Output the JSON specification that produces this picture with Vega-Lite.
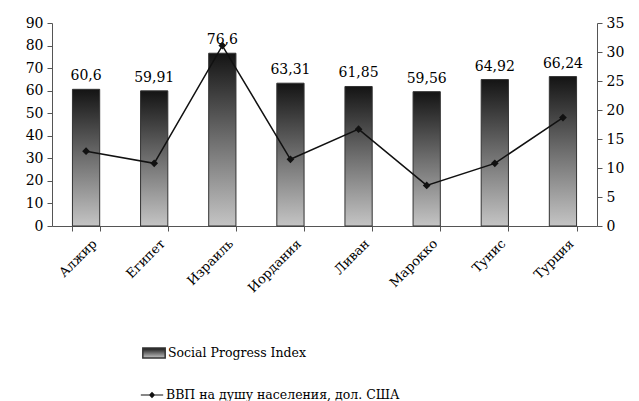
{
  "$schema": "https://vega.github.io/schema/vega-lite/v6.json",
  "autosize": {"type": "none"},
  "width": 545,
  "height": 203,
  "padding": {"left": 52, "top": 23, "right": 42, "bottom": 175},
  "background": "white",
  "config": {
    "view": {"stroke": null},
    "font": "DejaVu Serif",
    "text": {"font": "DejaVu Serif"},
    "axis": {"labelFont": "DejaVu Serif", "labelColor": "#000", "domainColor": "#555", "tickColor": "#555", "grid": false, "title": null},
    "legend": {"labelFont": "DejaVu Serif", "labelColor": "#000", "labelFontSize": 12.5, "labelLimit": 500}
  },
  "data": {
    "values": [
      {"country": "Алжир", "spi": 60.6, "label": "60,6", "gdp": 12.9},
      {"country": "Египет", "spi": 59.91, "label": "59,91", "gdp": 10.8},
      {"country": "Израиль", "spi": 76.6, "label": "76,6", "gdp": 31.1},
      {"country": "Иордания", "spi": 63.31, "label": "63,31", "gdp": 11.5},
      {"country": "Ливан", "spi": 61.85, "label": "61,85", "gdp": 16.7},
      {"country": "Марокко", "spi": 59.56, "label": "59,56", "gdp": 7.0},
      {"country": "Тунис", "spi": 64.92, "label": "64,92", "gdp": 10.8},
      {"country": "Турция", "spi": 66.24, "label": "66,24", "gdp": 18.7}
    ]
  },
  "encoding": {
    "x": {
      "field": "country", "type": "nominal", "sort": null,
      "scale": {"paddingInner": 0.6, "paddingOuter": 0.3},
      "axis": {"labelAngle": -45, "labelAlign": "right", "labelBaseline": "top", "labelFontSize": 13, "labelPadding": 6, "tickBand": "extent", "tickSize": 5, "labelOffset": 4}
    }
  },
  "layer": [
    {
      "encoding": {
        "y": {"field": "spi", "type": "quantitative", "scale": {"domain": [0, 90], "nice": false},
          "axis": {"values": [0, 10, 20, 30, 40, 50, 60, 70, 80, 90], "labelFontSize": 14, "tickSize": 5, "labelPadding": 4}}
      },
      "layer": [
        {
          "mark": {"type": "bar", "stroke": "#333", "strokeWidth": 1,
            "fill": {"gradient": "linear", "x1": 0, "y1": 0, "x2": 0, "y2": 1,
              "stops": [{"offset": 0, "color": "#141414"}, {"offset": 0.5, "color": "#6e6e6e"}, {"offset": 1, "color": "#c4c4c4"}]}},
          "encoding": {
            "opacity": {"datum": "Social Progress Index", "type": "nominal", "scale": {"range": [1]},
              "legend": {"orient": "none", "legendX": 90, "legendY": 318, "title": null, "symbolSize": 500,
                "symbolType": "M-1,-0.45H1V0.45H-1Z", "labelOffset": 2,
                "symbolFillColor": "#555", "symbolOpacity": 1}}
          }
        },
        {
          "mark": {"type": "text", "baseline": "bottom", "dy": -6, "fontSize": 14, "color": "#000"},
          "encoding": {"text": {"field": "label"}}
        }
      ]
    },
    {
      "encoding": {
        "y": {"field": "gdp", "type": "quantitative", "scale": {"domain": [0, 35], "nice": false},
          "axis": {"orient": "right", "values": [0, 5, 10, 15, 20, 25, 30, 35], "labelFontSize": 14, "tickSize": 5, "labelPadding": 4}}
      },
      "layer": [
        {
          "mark": {"type": "line", "color": "#111", "strokeWidth": 1.5}
        },
        {
          "mark": {"type": "point", "shape": "diamond", "filled": true, "color": "#111", "size": 60},
          "encoding": {
            "opacity": {"datum": "ВВП на душу населения,  дол. США", "type": "nominal", "scale": {"range": [1]},
              "legend": {"orient": "none", "legendX": 88, "legendY": 360, "title": null, "symbolSize": 500, "labelOffset": 2,
                "symbolType": "M-1,-0.05H1V0.05H-1Z M0,-0.28L0.28,0L0,0.28L-0.28,0Z", "symbolFillColor": "#111", "symbolOpacity": 1}}
          }
        }
      ]
    }
  ],
  "resolve": {"scale": {"y": "independent", "opacity": "independent"}, "legend": {"opacity": "independent"}}
}
